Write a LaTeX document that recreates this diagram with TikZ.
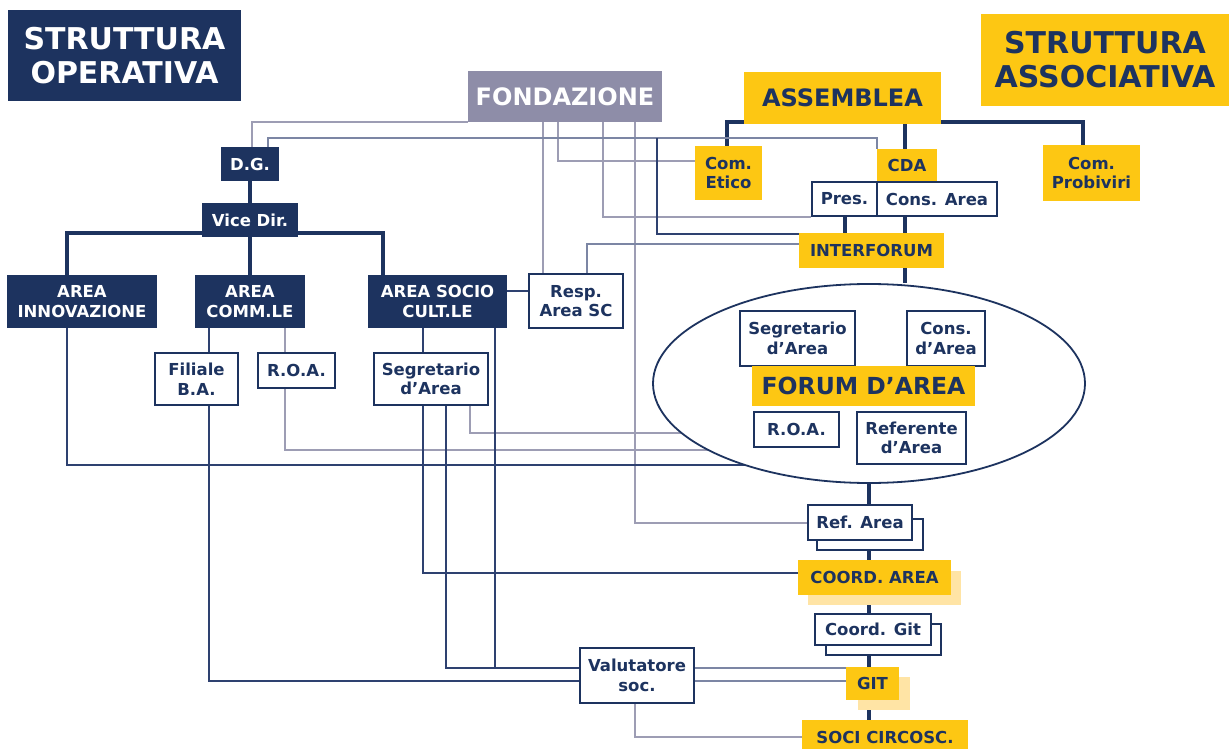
\documentclass[tikz,border=0pt]{standalone}
\usepackage{fontspec}
\setmainfont{DejaVu Sans}
\usetikzlibrary{shapes.geometric}
\definecolor{navy}{HTML}{1D335F}
\definecolor{ylw}{HTML}{FDC713}
\definecolor{lylw}{HTML}{FFE4A5}
\definecolor{fgrey}{HTML}{8E8DA8}
\definecolor{lgrey}{HTML}{9D9DB4}
\definecolor{lnavy}{HTML}{2E4170}
\definecolor{lmid}{HTML}{7C86A4}
\pgfdeclarelayer{back}
\pgfdeclarelayer{bg}
\pgfsetlayers{back,bg,main}
\begin{document}
\begin{tikzpicture}[x=1pt,y=-1pt,
 corners/.style n args={4}{minimum width={#3-#1}, minimum height={#4-#2}, at={({(#1+#3)/2},{(#2+#4)/2})}},
 base/.style={inner sep=0pt, font=\fontsize{16.5}{19.5}\selectfont\bfseries, align=center},
 nbox/.style={base, fill=navy, text=white},
 ybox/.style={base, fill=ylw, text=navy},
 lbox/.style={base, fill=lylw},
 wbox/.style={base, fill=white, draw=navy, line width=2pt, text=navy},
 bigfont/.style={font=\fontsize{24}{28}\selectfont\bfseries},
 titlefont/.style={font=\fontsize{30}{34}\selectfont\bfseries},
 thk/.style={draw=navy, line width=3.5pt},
 tn/.style={draw=lnavy, line width=1.5pt},
 tg/.style={draw=lgrey, line width=1.5pt},
 tm/.style={draw=lmid, line width=1.5pt},
]
\useasboundingbox (0,0) rectangle (1229,749);
\begin{pgfonlayer}{back}
\fill[white] (0,0) rectangle (1229,749);
\end{pgfonlayer}

% titles
\node[nbox, titlefont, corners={8}{10}{241}{101}] (t1) {STRUTTURA\\OPERATIVA};
\node[ybox, titlefont, corners={981}{14}{1229}{106}] (t2) {STRUTTURA\\ASSOCIATIVA};
\node[base, fill=fgrey, text=white, bigfont, corners={468}{71}{662}{122}] (fond) {FONDAZIONE};
\node[ybox, bigfont, corners={744}{72}{941}{124}] (assem) {ASSEMBLEA};

% operative structure
\node[nbox, corners={221}{147}{279}{181}] (dg) {D.G.};
\node[nbox, corners={202}{203}{298}{237}] (vd) {Vice Dir.};
\node[nbox, corners={7}{275}{157}{328}] (ainn) {AREA\\INNOVAZIONE};
\node[nbox, corners={195}{275}{305}{328}] (acom) {AREA\\COMM.LE};
\node[nbox, corners={368}{275}{507}{328}] (acs) {AREA SOCIO\\CULT.LE};
\node[wbox, corners={529}{274}{623}{328}] (resp) {Resp.\\Area SC};
\node[wbox, corners={155}{353}{238}{405}] (fil) {Filiale\\B.A.};
\node[wbox, corners={258}{353}{335}{388}] (roa) {R.O.A.};
\node[wbox, corners={374}{353}{488}{405}] (seg) {Segretario\\d’Area};

% associative structure
\node[ybox, corners={695}{146}{762}{200}] (cetico) {Com.\\Etico};
\node[ybox, corners={877}{149}{937}{182}] (cda) {CDA};
\node[ybox, corners={1043}{145}{1140}{201}] (cprob) {Com.\\Probiviri};
\node[wbox, corners={812}{182}{877}{216}] (pres) {Pres.};
\node[wbox, corners={877}{182}{997}{216}] (consa) {Cons. Area};
\node[ybox, corners={799}{233}{944}{268}] (interf) {INTERFORUM};

\node[ellipse, draw=navy, line width=1.8pt, fill=white, inner sep=0pt,
      minimum width=432, minimum height=199] (forum) at (869,383.5) {};
\node[wbox, corners={740}{311}{855}{366}] (fseg) {Segretario\\d’Area};
\node[wbox, corners={907}{311}{985}{366}] (fcons) {Cons.\\d’Area};
\node[ybox, font=\fontsize{23.5}{27}\selectfont\bfseries, corners={752}{366}{975}{406}] (flabel) {FORUM D’AREA};
\node[wbox, corners={754}{412}{839}{447}] (froa) {R.O.A.};
\node[wbox, corners={857}{412}{966}{464}] (fref) {Referente\\d’Area};

\node[wbox, corners={817}{519}{923}{550}] (refab) {};
\node[wbox, corners={808}{505}{912}{540}] (refa) {Ref. Area};
\node[lbox, corners={808}{571}{961}{605}] (coordb) {};
\node[ybox, corners={798}{560}{951}{595}] (coord) {COORD. AREA};
\node[wbox, corners={826}{624}{941}{655}] (cgitb) {};
\node[wbox, corners={815}{614}{931}{645}] (cgit) {Coord. Git};
\node[lbox, corners={858}{677}{910}{710}] (gitb) {};
\node[ybox, corners={846}{667}{899}{700}] (git) {GIT};
\node[ybox, corners={802}{720}{968}{755}] (soci) {SOCI CIRCOSC.};
\node[wbox, corners={580}{648}{694}{703}] (valu) {Valutatore\\soc.};

\coordinate (jdg) at (657,138);

\begin{pgfonlayer}{bg}
% thick tree lines
\draw[thk] (dg.south) -- (vd.north);
\draw[thk] (ainn.north -| 67,0) |- (383,233) -- (acs.north -| 383,0);
\draw[thk] (vd.south) -- (acom.north);
\draw[thk] (cetico.north -| 727,0) |- (1083,122) -- (cprob.north -| 1083,0);
\draw[thk] (assem.south -| 905,0) -- (cda.north -| 905,0);
\draw[thk] (pres.south -| 845,0) -- (interf.north -| 845,0);
\draw[thk] (consa.south -| 905,0) -- (interf.north -| 905,0);
\draw[thk] (interf.south -| 905,0) -- (forum.north -| 905,0);
\draw[thk] (forum.south) -- (soci.north -| forum.south);

% from FONDAZIONE
\draw[tg] (dg.north -| 252,0) |- (fond.west |- 0,122);
\draw[tg] (fond.south -| 543,0) -- (resp.north -| 543,0);
\draw[tg] (fond.south -| 558,0) |- (cetico.west |- 0,161);
\draw[tg] (fond.south -| 603,0) |- (pres.south west);
\draw[tg] (fond.south -| 635,0) |- (refa.west |- 0,523);

% from D.G.
\draw[tm] (dg.north -| 268,0) |- (cda.north west |- jdg) -- (cda.north west);
\draw[tn] (jdg) |- (interf.west |- 0,234);

% operative lines
\draw[tm] (resp.north -| 587,0) |- (interf.west |- 0,244);
\draw[tn] (acs.east |- 0,291) -- (resp.west |- 0,291);
\draw[tn] (ainn.south -| 67,0) |- (forum.center |- 0,465);
\draw[tn] (acom.south -| 209,0) -- (fil.north -| 209,0);
\draw[tn] (fil.south -| 209,0) |- (valu.west |- 0,681);
\draw[tg] (acom.south -| 285,0) -- (roa.north -| 285,0);
\draw[tg] (roa.south -| 285,0) |- (forum.center |- 0,450);
\draw[tn] (acs.south -| 423,0) -- (seg.north -| 423,0);
\draw[tn] (seg.south -| 423,0) |- (coord.west |- 0,573);
\draw[tn] (seg.south -| 446,0) |- (valu.west |- 0,668);
\draw[tg] (seg.south -| 470,0) |- (forum.center |- 0,433);
\draw[tn] (acs.south -| 495,0) |- (valu.west |- 0,668);
\draw[tm] (valu.east |- 0,668) -- (git.west |- 0,668);
\draw[tm] (valu.east |- 0,681) -- (git.west |- 0,681);
\draw[tg] (valu.south -| 635,0) |- (soci.west |- 0,737);
\end{pgfonlayer}
\end{tikzpicture}
\end{document}
